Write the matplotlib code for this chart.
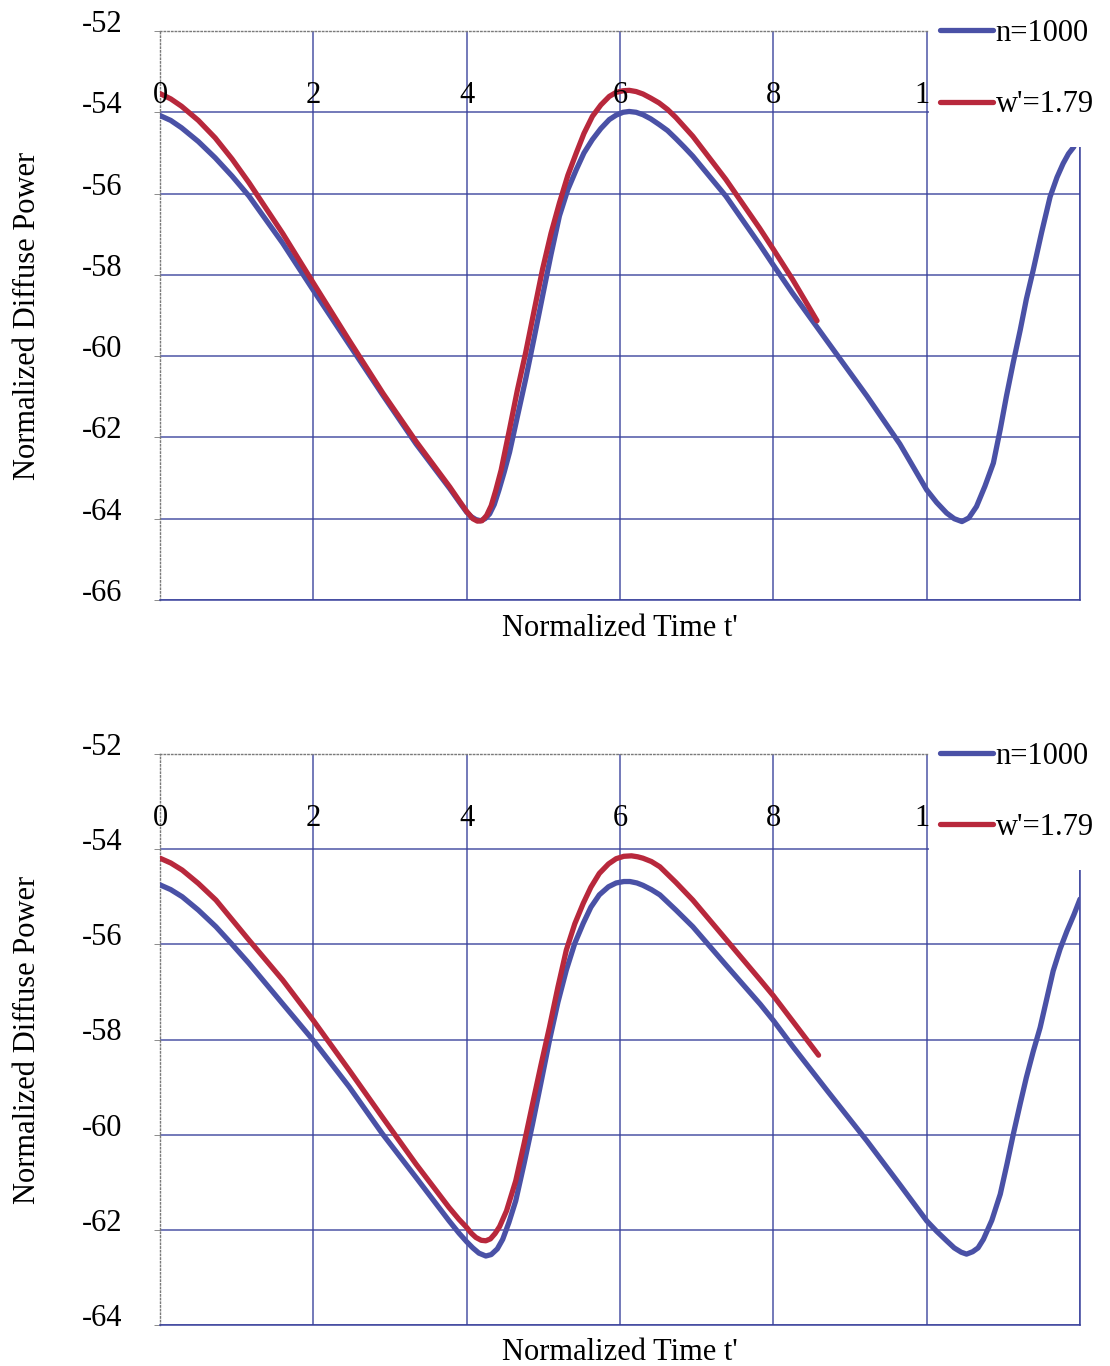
import matplotlib
matplotlib.use("Agg")
import matplotlib.pyplot as plt
from matplotlib.patches import Rectangle
from matplotlib.transforms import ScaledTranslation

# ---------------- data ----------------
x_ticks = [0, 2, 4, 6, 8, 10, 12]
x_tick_labels = ["0", "2", "4", "6", "8", "10"]
series_labels = ["n=1000", "w'=1.79"]

top_yticks = [-66, -64, -62, -60, -58, -56, -54, -52]
bot_yticks = [-64, -62, -60, -58, -56, -54, -52]

top_blue_x = [0, 0.14, 0.28, 0.5, 0.72, 0.94, 1.16, 1.60, 2.0, 2.47, 2.91, 3.34, 3.78,
              3.9, 4.0, 4.06, 4.12, 4.18, 4.24, 4.30, 4.36, 4.42, 4.49, 4.56, 4.66,
              4.77, 4.88, 4.99, 5.10, 5.21, 5.32, 5.43, 5.53, 5.64, 5.75, 5.86, 5.95,
              6.04, 6.12, 6.21, 6.3, 6.4, 6.51, 6.62, 6.73, 6.84, 6.95, 7.38, 7.82,
              8.0, 8.25, 8.69, 9.22, 9.65, 10.0, 10.13, 10.26, 10.36, 10.46, 10.55,
              10.65, 10.76, 10.87, 10.96, 11.04, 11.13, 11.22, 11.30, 11.39, 11.50,
              11.61, 11.70, 11.78, 11.85, 11.92]
top_blue_y = [-54.08, -54.20, -54.38, -54.72, -55.12, -55.57, -56.06, -57.22, -58.38,
              -59.72, -60.97, -62.16, -63.26, -63.58, -63.84, -63.95, -64.02, -64.05,
              -64.00, -63.88, -63.65, -63.30, -62.85, -62.36, -61.50, -60.56, -59.55,
              -58.52, -57.50, -56.55, -55.90, -55.41, -55.00, -54.67, -54.40, -54.18,
              -54.07, -54.00, -53.98, -54.00, -54.06, -54.16, -54.30, -54.45, -54.65,
              -54.86, -55.08, -56.06, -57.25, -57.76, -58.45, -59.60, -60.98, -62.16,
              -63.29, -63.60, -63.86, -64.00, -64.07, -63.98, -63.70, -63.20, -62.63,
              -61.80, -60.99, -60.15, -59.36, -58.60, -57.88, -56.95, -56.08, -55.60,
              -55.26, -55.02, -54.85]

top_red_x = [0, 0.14, 0.28, 0.5, 0.72, 0.94, 1.16, 1.60, 2.0, 2.47, 2.91, 3.34, 3.78,
             3.9, 4.0, 4.08, 4.14, 4.20, 4.26, 4.32, 4.38, 4.45, 4.56, 4.66, 4.77,
             4.88, 4.99, 5.10, 5.21, 5.32, 5.43, 5.53, 5.64, 5.75, 5.86, 5.95, 6.04,
             6.12, 6.21, 6.3, 6.4, 6.51, 6.62, 6.73, 6.84, 6.95, 7.38, 7.82, 8.0,
             8.25, 8.57]
top_red_y = [-53.54, -53.67, -53.85, -54.20, -54.63, -55.15, -55.73, -56.98, -58.20,
             -59.62, -60.92, -62.10, -63.22, -63.55, -63.82, -64.00, -64.06, -64.05,
             -63.92, -63.68, -63.30, -62.80, -61.79, -60.85, -59.91, -58.88, -57.86,
             -56.98, -56.23, -55.55, -55.00, -54.52, -54.10, -53.82, -53.61, -53.51,
             -53.47, -53.46, -53.49, -53.55, -53.65, -53.77, -53.93, -54.13, -54.36,
             -54.59, -55.65, -56.85, -57.37, -58.11, -59.13]

bot_blue_x = [0, 0.14, 0.29, 0.5, 0.73, 0.94, 1.16, 1.60, 2.0, 2.47, 2.90, 3.34, 3.77,
              3.9, 4.0, 4.08, 4.16, 4.25, 4.32, 4.40, 4.47, 4.55, 4.64, 4.75, 4.86,
              4.97, 5.08, 5.19, 5.30, 5.41, 5.52, 5.62, 5.73, 5.85, 5.95, 6.05, 6.13,
              6.22, 6.3, 6.41, 6.52, 6.73, 6.95, 7.39, 7.83, 8.0, 8.26, 8.70, 9.22,
              9.65, 10.0, 10.13, 10.26, 10.36, 10.45, 10.52, 10.60, 10.67, 10.74,
              10.85, 10.96, 11.05, 11.13, 11.22, 11.30, 11.39, 11.48, 11.57, 11.65,
              11.74, 11.83, 11.92, 12.0]
bot_blue_y = [-54.75, -54.85, -55.00, -55.28, -55.63, -56.00, -56.40, -57.25, -58.02,
              -59.00, -59.98, -60.90, -61.81, -62.07, -62.25, -62.38, -62.49, -62.55,
              -62.52, -62.40, -62.20, -61.85, -61.39, -60.60, -59.77, -58.90, -58.02,
              -57.22, -56.54, -55.98, -55.56, -55.22, -54.96, -54.79, -54.71, -54.68,
              -54.68, -54.71, -54.76, -54.85, -54.96, -55.28, -55.63, -56.45, -57.26,
              -57.60, -58.16, -59.07, -60.13, -61.05, -61.81, -62.03, -62.23, -62.38,
              -62.47, -62.51, -62.46, -62.38, -62.20, -61.80, -61.25, -60.60, -59.99,
              -59.35, -58.80, -58.25, -57.75, -57.12, -56.56, -56.10, -55.72, -55.38,
              -55.05]

bot_red_x = [0, 0.14, 0.29, 0.5, 0.73, 0.94, 1.16, 1.60, 2.0, 2.47, 2.90, 3.34, 3.77,
             3.9, 4.0, 4.06, 4.12, 4.19, 4.25, 4.31, 4.37, 4.43, 4.52, 4.64, 4.75,
             4.86, 4.97, 5.08, 5.19, 5.30, 5.41, 5.52, 5.62, 5.73, 5.85, 5.95, 6.05,
             6.15, 6.23, 6.3, 6.41, 6.52, 6.73, 6.95, 7.39, 7.83, 8.0, 8.26, 8.59]
bot_red_y = [-54.19, -54.29, -54.44, -54.72, -55.07, -55.48, -55.91, -56.75, -57.60,
             -58.65, -59.63, -60.62, -61.53, -61.78, -61.95, -62.07, -62.16, -62.22,
             -62.23, -62.19, -62.08, -61.93, -61.60, -60.97, -60.18, -59.35, -58.53,
             -57.74, -56.90, -56.12, -55.57, -55.14, -54.80, -54.51, -54.31, -54.20,
             -54.15, -54.14, -54.16, -54.19, -54.26, -54.37, -54.70, -55.07, -55.91,
             -56.75, -57.08, -57.63, -58.33]

# ---------------- style ----------------
FONT = ["Liberation Serif", "DejaVu Serif"]
plt.rcParams["font.family"] = FONT
FS = 22
BLUE = "#4a51a6"
RED = "#b8283c"
GRID = "#3a429c"
GREY = "#7a7a7a"

fig = plt.figure(figsize=(11.10, 13.66), dpi=100)
fig.patch.set_facecolor("white")

W, H = 1110, 1366
def axes_rect(left_px, right_px, top_px, bottom_px):
    return [left_px / W, 1 - bottom_px / H, (right_px - left_px) / W, (bottom_px - top_px) / H]

ax_top = fig.add_axes(axes_rect(160, 1080, 31, 600))
ax_bot = fig.add_axes(axes_rect(160, 1080, 754, 1325))

panels = [
    (ax_top, top_yticks, top_blue_x, top_blue_y, top_red_x, top_red_y, 7, -0.024),
    (ax_bot, bot_yticks, bot_blue_x, bot_blue_y, bot_red_x, bot_red_y, 17, -0.022),
]

for ax, yticks, bx, by, rx, ry, xlab_off, xl_y in panels:
    ax.set_xlim(x_ticks[0], x_ticks[-1])
    ax.set_ylim(yticks[0], yticks[-1])
    ax.set_xticks(x_ticks)
    ax.set_yticks(yticks)
    ax.set_yticklabels([str(v) for v in yticks], fontsize=FS)

    # grid
    ax.grid(True, color=GRID, linewidth=1.1, alpha=0.9, zorder=1)
    ax.set_axisbelow(True)
    ax.xaxis.get_gridlines()[0].set_visible(False)
    ax.yaxis.get_gridlines()[-1].set_visible(False)

    # spines
    for s in ["left", "top"]:
        ax.spines[s].set_color(GREY)
        ax.spines[s].set_linestyle(":")
        ax.spines[s].set_linewidth(1.0)
    for s in ["right", "bottom"]:
        ax.spines[s].set_color(GRID)
        ax.spines[s].set_linewidth(1.1)

    ax.tick_params(axis="x", bottom=False, labelbottom=False)
    ax.tick_params(axis="y", length=4, width=0.6, color=GREY, pad=23)
    shift = ScaledTranslation(0, 10 / 100, fig.dpi_scale_trans)
    for lab in ax.get_yticklabels():
        lab.set_transform(lab.get_transform() + shift)

    # x tick labels drawn along the y=-54 line (the last one is partly hidden by the legend area)
    for xv, lab in zip(x_ticks, x_tick_labels):
        dx = 1.8 if len(lab) > 1 else 0
        ax.annotate(lab, xy=(xv, -54), xytext=(dx, xlab_off), textcoords="offset points",
                    ha="center", va="baseline", fontsize=FS, zorder=3,
                    annotation_clip=False)

    ax.plot(bx, by, color=BLUE, lw=3.8, solid_capstyle="round",
            solid_joinstyle="round", zorder=2.6, label=series_labels[0])
    ax.plot(rx, ry, color=RED, lw=3.8, solid_capstyle="round",
            solid_joinstyle="round", zorder=2.7, label=series_labels[1])

    # white area behind legend
    ax.add_patch(Rectangle((0.8355, 0.797), 0.25, 0.3, transform=ax.transAxes,
                           facecolor="white", edgecolor="none", clip_on=False,
                           zorder=4))
    leg = ax.legend(loc="upper left", bbox_to_anchor=(0.848, 1.021), fontsize=FS,
                    frameon=False, handlelength=1.72, handletextpad=0.1,
                    labelspacing=1.38, borderpad=0, borderaxespad=0)
    leg.set_zorder(5)

    ax.set_ylabel("Normalized Diffuse Power", fontsize=FS)
    ax.yaxis.set_label_coords(-0.128, 0.5)
    ax.set_xlabel("Normalized Time t'", fontsize=FS)
    ax.xaxis.set_label_coords(0.5, xl_y)

fig.savefig("out.png", dpi=100, facecolor="white")
